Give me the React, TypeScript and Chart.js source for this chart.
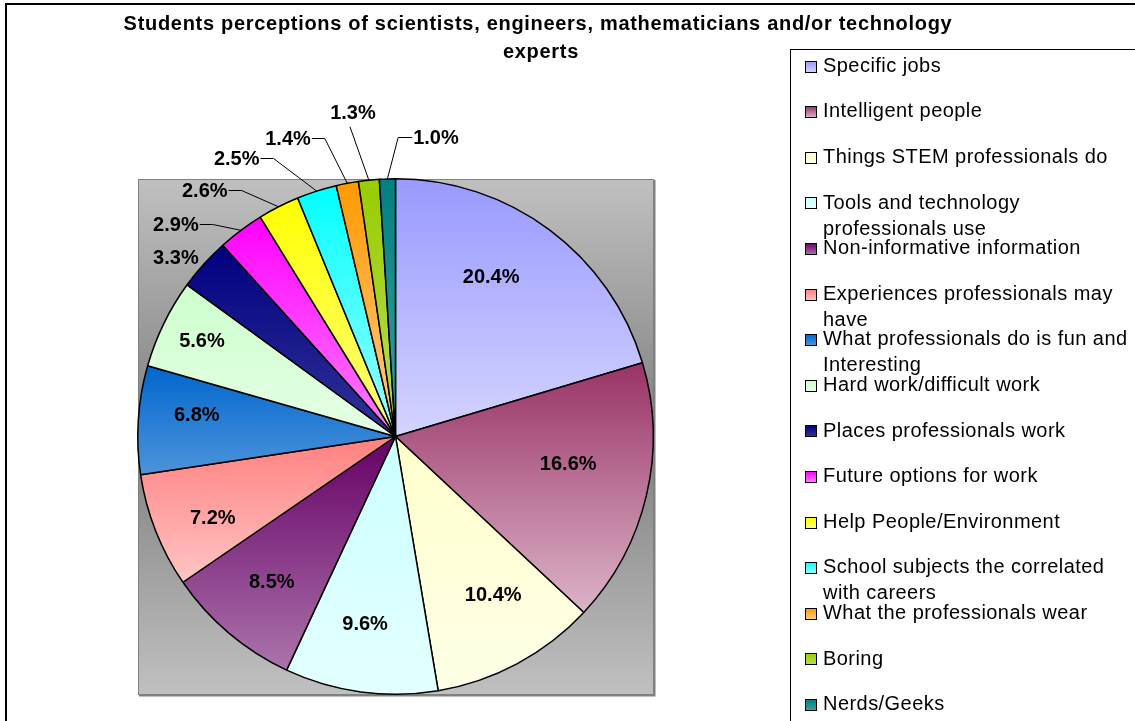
import React, { useEffect, useRef } from 'react';
import { Chart, registerables } from 'chart.js';

Chart.register(...registerables);

const titleLines = [
  'Students perceptions of scientists, engineers, mathematicians and/or technology',
  'experts',
];

const categories: (string | string[])[] = [
  'Specific jobs',
  'Intelligent people',
  'Things STEM professionals do',
  ['Tools and technology', 'professionals use'],
  'Non-informative information',
  ['Experiences professionals may', 'have'],
  ['What professionals do is fun and', 'Interesting'],
  'Hard work/difficult work',
  'Places professionals work',
  'Future options for work',
  'Help People/Environment',
  ['School subjects the correlated', 'with careers'],
  'What the professionals wear',
  'Boring',
  'Nerds/Geeks',
];

const percentages = [20.4, 16.6, 10.4, 9.6, 8.5, 7.2, 6.8, 5.6, 3.3, 2.9, 2.6, 2.5, 1.4, 1.3, 1.0];

const topColors = [
  '#9999ff', '#993366', '#ffffcc', '#ccffff', '#660066',
  '#ff8080', '#0066cc', '#ccffcc', '#000080', '#ff00ff',
  '#ffff00', '#00ffff', '#ff9900', '#99cc00', '#008080',
];
const bottomColors = [
  '#d4d4ff', '#dcb4c8', '#ffffe8', '#e4ffff', '#ab74ab',
  '#ffc4c4', '#4d94db', '#e6ffe6', '#333399', '#ff80ff',
  '#ffff80', '#a0ffff', '#ffcc88', '#b8dd55', '#409f9f',
];

// label anchor as fraction of the pie radius from its centre, and leader style
const labelAnchors: [number, number, string][] = [
  [0.371, -0.623, 'none'],
  [0.670, 0.099, 'none'],
  [0.379, 0.608, 'none'],
  [-0.118, 0.720, 'none'],
  [-0.480, 0.557, 'none'],
  [-0.709, 0.309, 'none'],
  [-0.771, -0.091, 'none'],
  [-0.751, -0.375, 'none'],
  [-0.852, -0.697, 'none'],
  [-0.852, -0.825, 'right'],
  [-0.740, -0.957, 'right'],
  [-0.616, -1.082, 'right'],
  [-0.417, -1.159, 'right'],
  [-0.165, -1.260, 'bottom'],
  [0.157, -1.163, 'left'],
];

const FONT = '"Liberation Sans", Arial, sans-serif';

function crosses(a: number, s: number, e: number) {
  for (let k = -2; k <= 2; k++) {
    const t = a + 2 * Math.PI * k;
    if (t >= s && t <= e) return true;
  }
  return false;
}

const backgroundPlugin = {
  id: 'bgPlot',
  beforeDatasetsDraw(chart: any) {
    const ctx = chart.ctx;
    const el = chart.getDatasetMeta(0).data[0];
    if (!el) return;
    const { x, y } = el.getProps(['x', 'y'], true);
    const r = 257.5;
    const left = Math.round(x - r), top = Math.round(y - r);
    const size = Math.round(2 * r);
    ctx.save();
    const g = ctx.createLinearGradient(0, top, 0, top + size);
    g.addColorStop(0, '#c0c0c0');
    g.addColorStop(0.5, '#7f7f7f');
    g.addColorStop(1, '#c0c0c0');
    ctx.fillStyle = g;
    ctx.fillRect(left, top, size, size);
    ctx.strokeStyle = '#808080';
    ctx.lineWidth = 1;
    ctx.strokeRect(left + 0.5, top + 0.5, size, size);
    ctx.lineWidth = 2;
    ctx.beginPath();
    ctx.moveTo(left + size + 1.5, top + 1);
    ctx.lineTo(left + size + 1.5, top + size + 1.5);
    ctx.lineTo(left + 1, top + size + 1.5);
    ctx.stroke();
    ctx.restore();

    // per-slice vertical gradients
    chart.getDatasetMeta(0).data.forEach((arc: any, i: number) => {
      const p = arc.getProps(['x', 'y', 'startAngle', 'endAngle', 'outerRadius'], true);
      const ys = [p.y, p.y + p.outerRadius * Math.sin(p.startAngle), p.y + p.outerRadius * Math.sin(p.endAngle)];
      if (crosses(-Math.PI / 2, p.startAngle, p.endAngle)) ys.push(p.y - p.outerRadius);
      if (crosses(Math.PI / 2, p.startAngle, p.endAngle)) ys.push(p.y + p.outerRadius);
      const y0 = Math.min(...ys), y1 = Math.max(...ys);
      const gr = ctx.createLinearGradient(0, y0, 0, Math.max(y1, y0 + 1));
      gr.addColorStop(0, topColors[i]);
      gr.addColorStop(1, bottomColors[i]);
      try {
        arc.options.backgroundColor = gr;
      } catch (e) {
        /* ignore */
      }
    });
  },
};

const labelPlugin = {
  id: 'sliceLabels',
  afterDatasetsDraw(chart: any) {
    const ctx = chart.ctx;
    const meta = chart.getDatasetMeta(0);
    ctx.save();
    ctx.font = `bold 20px ${FONT}`;
    ctx.textAlign = 'center';
    ctx.textBaseline = 'alphabetic';
    ctx.fillStyle = '#000';
    ctx.strokeStyle = '#000';
    ctx.lineWidth = 1;
    meta.data.forEach((arc: any, i: number) => {
      const p = arc.getProps(['x', 'y', 'startAngle', 'endAngle', 'outerRadius'], true);
      const [fx, fy, leader] = labelAnchors[i];
      const lx = p.x + fx * p.outerRadius;
      const ly = p.y + fy * p.outerRadius;
      const text = percentages[i].toFixed(1) + '%';
      ctx.fillText(text, lx, ly + 7.5);
      if (leader !== 'none') {
        const w = ctx.measureText(text).width;
        const mid = (p.startAngle + p.endAngle) / 2;
        const ex = p.x + Math.cos(mid) * p.outerRadius;
        const ey = p.y + Math.sin(mid) * p.outerRadius;
        ctx.beginPath();
        if (leader === 'right') {
          const sx = lx + w / 2 + 1;
          ctx.moveTo(sx, Math.round(ly) + 0.5);
          ctx.lineTo(sx + 13, Math.round(ly) + 0.5);
        } else if (leader === 'left') {
          const sx = lx - w / 2 - 1;
          ctx.moveTo(sx, Math.round(ly) + 0.5);
          ctx.lineTo(sx - 14, Math.round(ly) + 0.5);
        } else {
          ctx.moveTo(lx - 3, ly + 15);
        }
        ctx.lineTo(ex, ey);
        ctx.stroke();
      }
    });
    ctx.restore();
  },
};

const frameAndLegendPlugin = {
  id: 'frameLegend',
  beforeDraw(chart: any) {
    const ctx = chart.ctx;
    ctx.save();
    ctx.fillStyle = '#ffffff';
    ctx.fillRect(0, 0, chart.width, chart.height);
    ctx.restore();
  },
  afterDraw(chart: any) {
    const ctx = chart.ctx;
    ctx.save();
    // outer frame
    ctx.strokeStyle = '#000';
    ctx.lineWidth = 2;
    ctx.beginPath();
    ctx.moveTo(6, chart.height + 5);
    ctx.lineTo(6, 4);
    ctx.lineTo(chart.width + 5, 4);
    ctx.stroke();

    // title
    ctx.fillStyle = '#000';
    ctx.font = `bold 20px ${FONT}`;
    ctx.textAlign = 'center';
    ctx.textBaseline = 'alphabetic';
    (ctx as any).letterSpacing = '0.7px';
    ctx.fillText(titleLines[0], 538, 30);
    ctx.fillText(titleLines[1], 541, 58);

    // legend box
    ctx.lineWidth = 1;
    ctx.strokeStyle = '#000';
    ctx.strokeRect(790.5, 49.5, 600, 800);

    ctx.font = `20px ${FONT}`;
    ctx.textAlign = 'left';
    (ctx as any).letterSpacing = '0.45px';
    categories.forEach((lab, i) => {
      const yc = 65 + i * 45.6;
      const mx = 805.5, my = Math.round(yc - 4.5) + 0.5;
      const g = ctx.createLinearGradient(0, my, 0, my + 11);
      g.addColorStop(0, topColors[i]);
      g.addColorStop(1, bottomColors[i]);
      ctx.fillStyle = g;
      ctx.fillRect(mx, my, 11, 11);
      ctx.strokeStyle = '#000';
      ctx.strokeRect(mx, my, 11, 11);
      ctx.fillStyle = '#000';
      const lines = Array.isArray(lab) ? lab : [lab];
      lines.forEach((ln, k) => {
        ctx.fillText(ln, 823, yc + 6.8 + k * 26);
      });
    });
    (ctx as any).letterSpacing = '0px';
    ctx.restore();
  },
};

export default function App() {
  const ref = useRef<HTMLCanvasElement | null>(null);
  useEffect(() => {
    if (!ref.current) return;
    const chart = new Chart(ref.current, {
      type: 'pie',
      data: {
        labels: categories as any,
        datasets: [
          {
            data: percentages,
            backgroundColor: topColors,
            borderColor: '#000000',
            borderWidth: 1.5,
          },
        ],
      },
      options: {
        responsive: false,
        animation: false,
        events: [],
        layout: { padding: { left: 137, top: 178, right: 481, bottom: 26 } },
        plugins: {
          legend: { display: false },
          title: { display: false },
          tooltip: { enabled: false },
        },
      },
      plugins: [frameAndLegendPlugin, backgroundPlugin, labelPlugin],
    });
    return () => chart.destroy();
  }, []);
  return (
    <div style={{ position: 'absolute', left: 0, top: 0, width: 1135, height: 721, background: '#fff' }}>
      <canvas ref={ref} width={1135} height={721} style={{ display: 'block' }} />
    </div>
  );
}
